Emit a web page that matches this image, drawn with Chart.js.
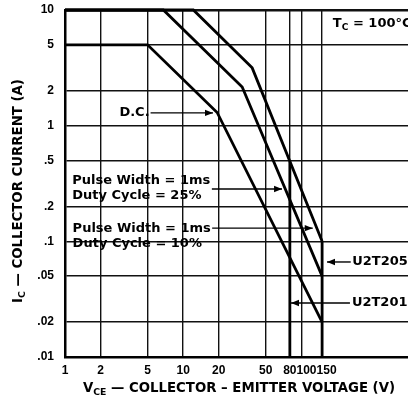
<!DOCTYPE html>
<html><head><meta charset="utf-8">
<script src="https://cdn.jsdelivr.net/npm/chart.js@4/dist/chart.umd.min.js"></script>
<style>html,body{margin:0;padding:0;background:#fff;overflow:hidden}canvas{display:block}</style>
</head><body>
<canvas id="c" width="408" height="401"></canvas>
<script>
// ---- data ----
const xTickValues = [1, 2, 5, 10, 20, 50, 80, 100, 150];
const xTickLabels = ['1', '2', '5', '10', '20', '50', '80', '100', '150'];
const yTickValues = [0.01, 0.02, 0.05, 0.1, 0.2, 0.5, 1, 2, 5, 10];
const yTickLabels = ['.01', '.02', '.05', '.1', '.2', '.5', '1', '2', '5', '10'];

const dcVolts = [1, 5, 19.4, 150];
const dcAmps = [5, 5, 1.3, 0.02];
const pulse25Volts = [1, 6.8, 31.6, 150];
const pulse25Amps = [10, 10, 2.16, 0.05];
const pulse10Volts = [1, 12.2, 38.4, 150];
const pulse10Amps = [10, 10, 3.16, 0.1];
const u2t201Volts = [80, 80];
const u2t201Amps = [0.49, 0.01];
const u2t205Volts = [150, 150];
const u2t205Amps = [0.1, 0.01];

// annotation texts (anchored in data coordinates)
const notes = [
  { parts: [[ 'D.C.' ]], textV: 5.2, textI: 1.29, align: 'right', arrowFrom: [5.3, 1.29], arrowTo: [17.9, 1.29] },
  { parts: [[ 'Pulse Width = 1ms' ], [ 'Duty Cycle = 25%' ]], textV: 1.15, textI: 0.333, align: 'left', arrowFrom: [17.5, 0.2835], arrowTo: [68.7, 0.2835] },
  { parts: [[ 'Pulse Width = 1ms' ], [ 'Duty Cycle = 10%' ]], textV: 1.16, textI: 0.130, align: 'left', arrowFrom: [17.6, 0.130], arrowTo: [125, 0.130] },
  { parts: [[ 'U2T205' ]], textV: 270, textI: 0.0663, align: 'left', arrowFrom: [262, 0.0663], arrowTo: [165, 0.0663] },
  { parts: [[ 'U2T201' ]], textV: 268, textI: 0.0293, align: 'left', arrowFrom: [258, 0.0293], arrowTo: [81.8, 0.0293] },
  { parts: [[ 'T', 'C', ' = 100°C' ]], textV: 185, textI: 7.6, align: 'left' }
];

const pts = (xs, ys) => xs.map((v, i) => ({ x: v, y: ys[i] }));
const lineDs = (xs, ys) => ({ data: pts(xs, ys), borderColor: '#000', borderWidth: 2.8, pointRadius: 0, tension: 0, fill: false, clip: false });

const FONT = '"DejaVu Sans", sans-serif';

function richWidth(ctx, parts, size) {
  let w = 0;
  parts.forEach((t, i) => {
    const sub = parts.length > 1 && i === 1;
    ctx.font = 'bold ' + (sub ? size * 0.7 : size) + 'px ' + FONT;
    w += ctx.measureText(t).width;
  });
  return w;
}
function drawRich(ctx, parts, x, y, size) {
  let cx = x;
  parts.forEach((t, i) => {
    const sub = parts.length > 1 && i === 1;
    ctx.font = 'bold ' + (sub ? size * 0.7 : size) + 'px ' + FONT;
    ctx.textBaseline = 'middle';
    ctx.textAlign = 'left';
    ctx.fillText(t, cx, sub ? y + size * 0.3 : y);
    cx += ctx.measureText(t).width;
  });
}
function arrow(ctx, x1, y1, x2, y2) {
  ctx.beginPath();
  ctx.moveTo(x1, y1); ctx.lineTo(x2, y2);
  ctx.lineWidth = 1.4; ctx.strokeStyle = '#000'; ctx.stroke();
  const dir = Math.sign(x2 - x1) || 1;
  ctx.beginPath();
  ctx.moveTo(x2, y2);
  ctx.lineTo(x2 - dir * 8, y2 - 3.2);
  ctx.lineTo(x2 - dir * 8, y2 + 3.2);
  ctx.closePath(); ctx.fillStyle = '#000'; ctx.fill();
}

const decor = {
  id: 'decor',
  afterDraw(chart) {
    const ctx = chart.ctx, xs = chart.scales.x, ys = chart.scales.y, a = chart.chartArea;
    const X = v => xs.getPixelForValue(v), Y = v => ys.getPixelForValue(v);
    ctx.save();
    ctx.fillStyle = '#000';
    // x tick labels, laid out left to right without overlap
    ctx.font = 'bold 12px "Liberation Sans", Arial, sans-serif';
    ctx.textBaseline = 'middle'; ctx.textAlign = 'left';
    let prevRight = -Infinity;
    xTickValues.forEach((v, i) => {
      const w = ctx.measureText(xTickLabels[i]).width;
      let left = Math.max(X(v) - w / 2, prevRight);
      ctx.fillText(xTickLabels[i], left, a.bottom + 14);
      prevRight = left + w;
    });
    // axis titles
    const xt = ['V', 'CE', ' — COLLECTOR – EMITTER VOLTAGE (V)'];
    const xw = richWidth(ctx, xt, 13.3);
    drawRich(ctx, xt, 239 - xw / 2, 389, 13.3);
    const yt = ['I', 'C', ' — COLLECTOR CURRENT (A)'];
    const yw = richWidth(ctx, yt, 13.3);
    ctx.save();
    ctx.translate(19, 191);
    ctx.rotate(-Math.PI / 2);
    drawRich(ctx, yt, -yw / 2, 0, 13.3);
    ctx.restore();
    // annotations
    notes.forEach(n => {
      if (n.arrowFrom) arrow(ctx, X(n.arrowFrom[0]), Y(n.arrowFrom[1]), X(n.arrowTo[0]), Y(n.arrowTo[1]));
      n.parts.forEach((p, li) => {
        const w = richWidth(ctx, p, 13);
        const x0 = n.align === 'right' ? X(n.textV) - w : X(n.textV);
        ctx.fillStyle = '#000';
        drawRich(ctx, p, x0, Y(n.textI) + li * 15, 13);
      });
    });
    ctx.restore();
  }
};

new Chart(document.getElementById('c'), {
  type: 'line',
  data: {
    datasets: [
      lineDs(dcVolts, dcAmps),
      lineDs(pulse25Volts, pulse25Amps),
      lineDs(pulse10Volts, pulse10Amps),
      lineDs(u2t201Volts, u2t201Amps),
      lineDs(u2t205Volts, u2t205Amps)
    ]
  },
  options: {
    responsive: false,
    animation: false,
    devicePixelRatio: 1,
    layout: { padding: { top: 10, right: 0, left: 0, bottom: 0 } },
    plugins: { legend: { display: false }, tooltip: { enabled: false } },
    scales: {
      x: {
        type: 'logarithmic', min: 1, max: 800,
        afterBuildTicks: s => { s.ticks = xTickValues.map(v => ({ value: v })); },
        afterFit: s => { s.height = 44; s.paddingLeft = 0; s.paddingRight = 0; },
        ticks: { display: false, autoSkip: false },
        grid: { color: '#111', lineWidth: 1.4, drawTicks: false },
        border: { display: true, color: '#000', width: 2.5 }
      },
      y: {
        type: 'logarithmic', min: 0.01, max: 10,
        afterBuildTicks: s => { s.ticks = yTickValues.map(v => ({ value: v })); },
        afterFit: s => { s.width = 65; s.paddingTop = 0; s.paddingBottom = 0; },
        ticks: {
          autoSkip: false, padding: 11, color: '#000',
          font: { family: '"Liberation Sans", Arial, sans-serif', size: 12, weight: 'bold' },
          callback: v => { const i = yTickValues.indexOf(v); return i >= 0 ? yTickLabels[i] : ''; }
        },
        grid: { color: '#111', lineWidth: c => (c.tick && c.tick.value === 10 ? 2.5 : 1.4), drawTicks: false },
        border: { display: true, color: '#000', width: 2.5 }
      }
    }
  },
  plugins: [decor]
});
</script>
</body></html>
